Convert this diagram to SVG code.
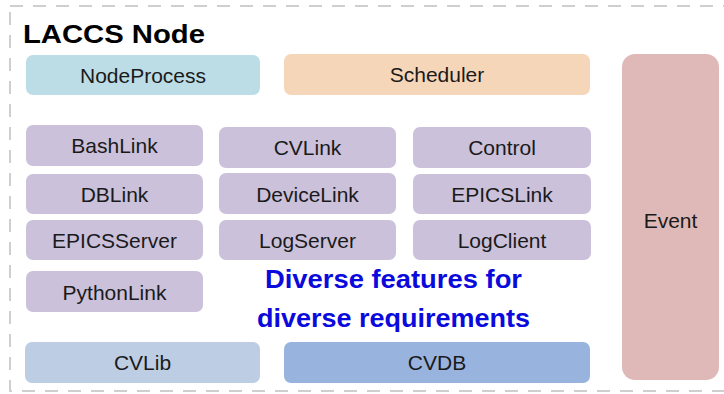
<svg xmlns="http://www.w3.org/2000/svg" width="724" height="394" viewBox="0 0 724 394">
<style>
.box text, text.lbl{font-family:"Liberation Sans",Arial,sans-serif;font-size:21px;fill:#1a1a1a;text-anchor:middle}
.purple{fill:#cbc1da}
.title{font-family:"Liberation Sans",Arial,sans-serif;font-size:26px;font-weight:bold;fill:#000}
.blue{font-family:"Liberation Sans",Arial,sans-serif;font-size:26px;font-weight:bold;fill:#0a0adc;text-anchor:middle}
</style>
<rect width="724" height="394" fill="#ffffff"/>
<rect id="frame" x="10" y="6" width="740" height="385" fill="none" stroke="#cfcfcf" stroke-width="2" stroke-dasharray="13 10"/>
<text class="title" x="23" y="43" textLength="182" lengthAdjust="spacingAndGlyphs">LACCS Node</text>
<g id="connectors"></g>
<g id="NodeProcess" class="box"><rect x="26" y="55" width="234" height="40" rx="7" fill="#bcdde6"/><text x="143" y="82.5">NodeProcess</text></g>
<g id="Scheduler" class="box"><rect x="284" y="54" width="306" height="41" rx="7" fill="#f6d6b9"/><text x="437" y="82">Scheduler</text></g>
<g id="Event" class="box"><rect x="622" y="54" width="97" height="326" rx="13" fill="#dfb8b8"/><text x="670.5" y="228">Event</text></g>
<g id="BashLink" class="box"><rect class="purple" x="26" y="125" width="177" height="41" rx="7"/><text x="114.5" y="153">BashLink</text></g>
<g id="CVLink" class="box"><rect class="purple" x="219" y="127" width="177" height="41" rx="7"/><text x="307.5" y="155">CVLink</text></g>
<g id="Control" class="box"><rect class="purple" x="413" y="127" width="178" height="41" rx="7"/><text x="502" y="155">Control</text></g>
<g id="DBLink" class="box"><rect class="purple" x="26" y="174" width="177" height="40" rx="7"/><text x="114.5" y="201.5">DBLink</text></g>
<g id="DeviceLink" class="box"><rect class="purple" x="219" y="173" width="177" height="41" rx="7"/><text x="307.5" y="201.5">DeviceLink</text></g>
<g id="EPICSLink" class="box"><rect class="purple" x="413" y="174" width="178" height="40" rx="7"/><text x="502" y="201.5">EPICSLink</text></g>
<g id="EPICSServer" class="box"><rect class="purple" x="26" y="220" width="177" height="40" rx="7"/><text x="114.5" y="248">EPICSServer</text></g>
<g id="LogServer" class="box"><rect class="purple" x="219" y="220" width="177" height="40" rx="7"/><text x="307.5" y="248">LogServer</text></g>
<g id="LogClient" class="box"><rect class="purple" x="413" y="220" width="178" height="40" rx="7"/><text x="502" y="248">LogClient</text></g>
<g id="PythonLink" class="box"><rect class="purple" x="26" y="271" width="177" height="41" rx="7"/><text x="114.5" y="300">PythonLink</text></g>
<g id="CVLib" class="box"><rect x="25" y="342" width="235" height="41" rx="7" fill="#bdcde4"/><text x="142.5" y="370">CVLib</text></g>
<g id="CVDB" class="box"><rect x="284" y="342" width="306" height="41" rx="7" fill="#98b3de"/><text x="437" y="370">CVDB</text></g>
<text class="blue" x="393.5" y="288" textLength="257" lengthAdjust="spacingAndGlyphs">Diverse features for</text>
<text class="blue" x="393.5" y="327" textLength="273" lengthAdjust="spacingAndGlyphs">diverse requirements</text>
</svg>
